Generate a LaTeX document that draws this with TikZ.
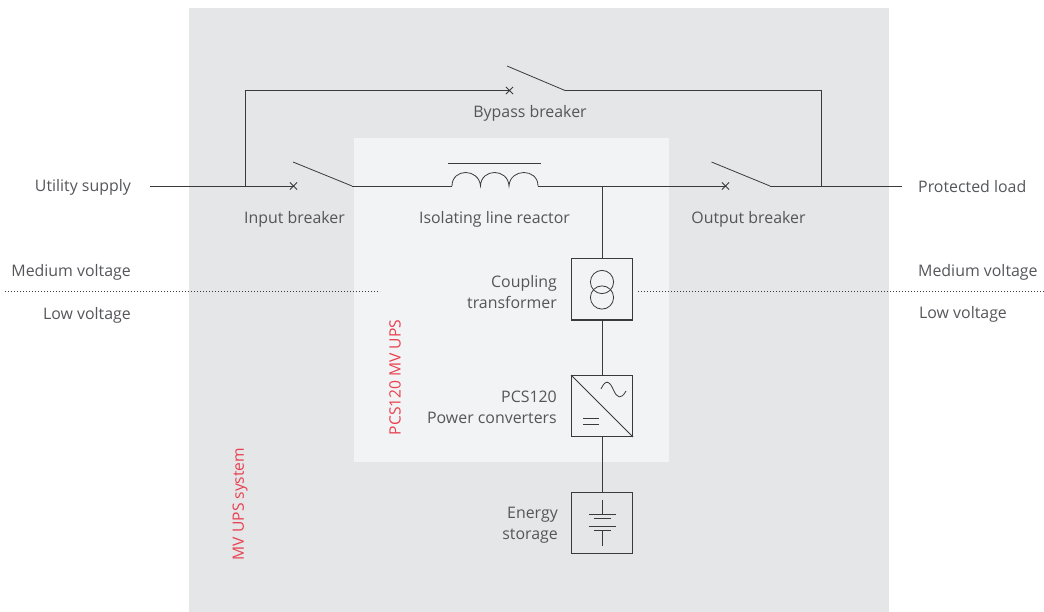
\documentclass[tikz,border=0pt]{standalone}
\usepackage{fontspec}
\setmainfont{Open Sans}
\definecolor{panelA}{HTML}{E5E6E8}
\definecolor{panelB}{HTML}{F2F3F5}
\definecolor{wire}{HTML}{3A3A3C}
\definecolor{txt}{HTML}{55565A}
\definecolor{redtxt}{HTML}{E8404F}
\tikzset{
  wireline/.style={draw=wire,line width=0.95pt},
  thinline/.style={draw=wire,line width=0.8pt},
  boxsym/.style={draw=wire,line width=1pt,minimum width=61pt,minimum height=61pt,inner sep=0pt,rectangle},
  lab/.style={text=txt,font=\fontsize{15.9}{21}\selectfont,inner sep=0pt},
  redlab/.style={text=redtxt,font=\fontsize{15.6}{18}\selectfont,inner sep=0pt,rotate=90},
  dots/.style={draw=wire,line width=0.9pt,dash pattern=on 1pt off 2pt},
}
\begin{document}
\begin{tikzpicture}[x=1pt,y=-1pt]
\useasboundingbox (0,0) rectangle (1044,612);
\fill[panelA] (189,8) rectangle (889,612);
\fill[panelB] (354,138) rectangle (669,462);

% dotted voltage boundary
\coordinate (dl1) at (5,291.5); \coordinate (dl2) at (380,291.5);
\coordinate (dr1) at (638,291.5); \coordinate (dr2) at (1044,291.5);
\draw[dots] (dl1) -- (dl2);
\draw[dots] (dr1) -- (dr2);

% terminals and junctions
\coordinate (src) at (150,186);
\coordinate (jin) at (245,186);
\coordinate (inx) at (293.5,186);
\coordinate (inb) at (352,186);
\coordinate (inbt) at (293,162);
\coordinate (lra) at (452,186);
\coordinate (lrb) at (538,186);
\coordinate (jt) at (602,186);
\coordinate (outx) at (725.5,186);
\coordinate (outb) at (770,186);
\coordinate (outbt) at (711.5,162);
\coordinate (jout) at (821.7,186);
\coordinate (load) at (902,186);
\coordinate (bypc) at (245,90.5);
\coordinate (bypx) at (509.5,90.5);
\coordinate (bypb) at (565,90.5);
\coordinate (bypbt) at (507,66);
\coordinate (bypd) at (821.7,90.5);

% symbol boxes
\node[boxsym] (tr) at (602,289.5) {};
\node[boxsym] (pc) at (602,406) {};
\node[boxsym] (es) at (602,522.5) {};

% connectors
\draw[wireline] (src) -- (inx);
\draw[wireline] (inb) -- (lra);
\draw[wireline] (lrb) -- (outx);
\draw[wireline] (outb) -- (load);
\draw[wireline] (jin) -- (bypc) -- (bypx);
\draw[wireline] (bypb) -- (bypd) -- (jout);
\draw[wireline] (jt) -- (tr.north);
\draw[wireline] (tr.south) -- (pc.north);
\draw[wireline] (pc.south) -- (es.north);

% switch blades
\draw[thinline] (inbt) -- (inb);
\draw[thinline] (outbt) -- (outb);
\draw[thinline] (bypbt) -- (bypb);

% crosses
\foreach \c in {inx,outx,bypx}
  \draw[thinline] (\c) ++(-3.6,-3.6) -- ++(7.2,7.2) (\c) ++(-3.6,3.6) -- ++(7.2,-7.2);

% reactor
\draw[thinline] (448,163) -- (541,163);
\draw[thinline] (lra) .. controls (452,168) and (479,168) .. (480.5,186)
  .. controls (481,168) and (508,168) .. (509,186)
  .. controls (510,168) and (538,168) .. (lrb);

% transformer
\draw[thinline] (602,282) circle (11.6);
\draw[thinline] (602,297.5) circle (11.6);

% converter
\draw[thinline] (pc.north west) -- (pc.south east);
\draw[thinline] (601,389) .. controls (606,378) and (610,382) .. (613.5,390)
  .. controls (617,398) and (621,400) .. (626,391);
\draw[thinline] (583,418) -- (599,418) (583,424) -- (599,424);

% battery
\draw[wireline] (602,499.5) -- (602,514);
\draw[wireline] (602,530.5) -- (602,545.5);
\draw[wireline] (589,514) -- (615.5,514);
\draw[thinline] (593.5,518.5) -- (611,518.5);
\draw[thinline] (589,526.5) -- (615.5,526.5);
\draw[wireline] (593.5,530.5) -- (611,530.5);

% labels
\node[lab,anchor=east] (l1) at (131,187.5) {Utility supply};
\node[lab,anchor=west] (l2) at (918,187) {Protected load};
\node[lab] (l3) at (530,113.5) {Bypass breaker};
\node[lab] (l4) at (294.5,219.5) {Input breaker};
\node[lab] (l5) at (494.5,219.5) {Isolating line reactor};
\node[lab] (l6) at (748.5,219.5) {Output breaker};
\node[lab,anchor=east] (l7) at (131,272) {Medium voltage};
\node[lab,anchor=east] (l8) at (131,315.5) {Low voltage};
\node[lab,anchor=west] (l9) at (918,272) {Medium voltage};
\node[lab,anchor=west] (l10) at (919,314.5) {Low voltage};
\node[lab,anchor=east,align=right] (l11) at (557,292) {Coupling\\transformer};
\node[lab,anchor=east,align=right] (l12) at (557,407.5) {PCS120\\Power converters};
\node[lab,anchor=east,align=right] (l13) at (558,525) {Energy\\storage};
\node[redlab] (r1) at (395,377.5) {PCS120 MV UPS};
\node[redlab] (r2) at (240,504) {MV UPS system};
\end{tikzpicture}
\end{document}
